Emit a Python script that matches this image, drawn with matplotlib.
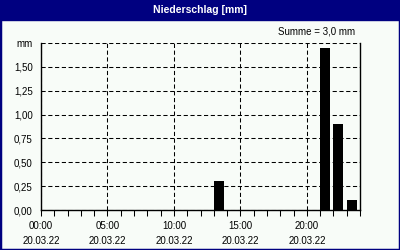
import matplotlib
matplotlib.use("Agg")
import matplotlib.pyplot as plt
import matplotlib.patches as patches

# Stundenwerte Niederschlag am 20.03.22
stunden = [13, 21, 22, 23]
niederschlag = [0.30, 1.70, 0.90, 0.10]

x_ticks = [0, 5, 10, 15, 20]
x_labels = ["00:00\n20.03.22", "05:00\n20.03.22", "10:00\n20.03.22",
            "15:00\n20.03.22", "20:00\n20.03.22"]
y_ticks = [0, 0.25, 0.5, 0.75, 1.0, 1.25, 1.5, 1.75]
y_labels = ["0,00", "0,25", "0,50", "0,75", "1,00", "1,25", "1,50", "mm"]

NAVY = "#000080"
BG = "#F8FCF8"

plt.rcParams["font.family"] = ["Liberation Sans", "DejaVu Sans"]

fig = plt.figure(figsize=(4, 2.5), dpi=100, facecolor=BG)

# Rahmen und Titelleiste
fig.patches.append(patches.Rectangle((0, 0), 1, 1, transform=fig.transFigure,
                                     fill=False, edgecolor=NAVY, linewidth=2.5))
fig.patches.append(patches.Rectangle((0, 1 - 20 / 250), 1, 20 / 250,
                                     transform=fig.transFigure,
                                     facecolor=NAVY, edgecolor=NAVY))
fig.text(0.5, 1 - 10 / 250, "Niederschlag [mm]", color="white",
         fontsize=7.5, fontweight="bold", ha="center", va="center")
fig.text(355 / 400, 1 - 31 / 250, "Summe = 3,0 mm", fontsize=7,
         ha="right", va="center")

ax = fig.add_axes([41 / 400, 40 / 250, 319 / 400, 167 / 250])
ax.set_facecolor(BG)
ax.bar(stunden, niederschlag, width=0.75, align="edge", color="black")

ax.set_xlim(0, 24)
ax.set_ylim(0, 1.75)
ax.set_xticks(x_ticks)
ax.set_xticklabels(x_labels, fontsize=7, linespacing=1.65)
ax.set_xticks(range(25), minor=True)
ax.set_yticks(y_ticks)
ax.set_yticklabels(y_labels, fontsize=7)

ax.tick_params(axis="x", which="both", direction="out", length=4, width=0.75,
               pad=4)
ax.tick_params(axis="y", length=0, pad=6)

for s in ["left", "bottom", "right"]:
    ax.spines[s].set_linewidth(1)
ax.spines["top"].set_visible(False)

ax.grid(True, which="major", color="black", linewidth=0.75,
        linestyle=(0, (4, 2.5)))
ax.set_axisbelow(True)

fig.savefig("out.png", dpi=100, facecolor=BG)
